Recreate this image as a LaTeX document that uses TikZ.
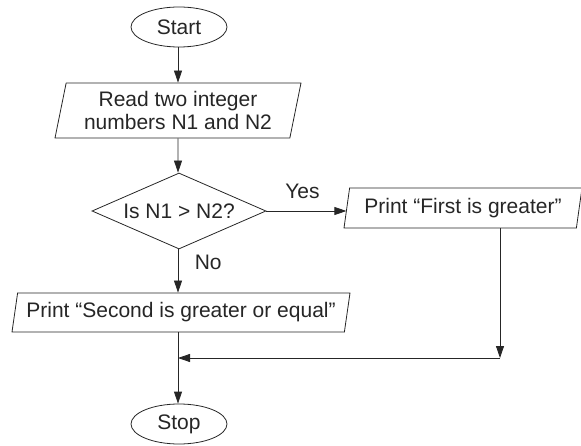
\documentclass[tikz,border=0pt]{standalone}
\usepackage{fontspec}
\setmainfont{Liberation Sans}
\usetikzlibrary{shapes.geometric,arrows.meta}

\tikzset{
  chart/.style={
    every node/.style={font=\fontsize{21}{23.5}\selectfont},
    color=black!85,
    line width=0.8pt
  }
}

\begin{document}
\begin{tikzpicture}[x=1pt, y=-1pt, chart]
    \tikzstyle{term}=[draw, ellipse, minimum width=96pt, minimum height=40pt, inner sep=0pt]
    \tikzstyle{io}=[draw, trapezium, trapezium left angle=74, trapezium right angle=106, trapezium stretches body, inner sep=0pt]
    \tikzstyle{decide}=[draw, diamond, aspect=2.3, minimum width=174pt, minimum height=76pt, inner sep=0pt]
    \tikzstyle{arrow}=[-{Triangle[length=12pt,width=8pt]}]
    \useasboundingbox (0,0) rectangle (581,446);

    \node[term] (F_start) at (179,27) {Start};
    \node[io, minimum width=246pt, minimum height=55pt, align=center] (F_read) at (178,110.5) {Read two integer\\numbers N1 and N2};
    \node[decide] (F_test) at (179,211) {Is N1 > N2?};
    \node[io, minimum width=238pt, minimum height=40pt] (F_first) at (463,208) {Print “First is greater”};
    \node[io, minimum width=338pt, minimum height=39pt] (F_second) at (181,312.5) {Print “Second is greater or equal”};
    \node[term] (F_stop) at (179,424) {Stop};
    \coordinate (F_corner) at (500,358);
    \coordinate (F_join) at (178,358);

    \draw[arrow] (F_start.south -| F_read.north) -- (F_read.north);
    \draw[arrow] (F_read) -- (F_test.north -| F_read.south);
    \draw[arrow] (F_test.east) -- (F_test.east -| F_first.west) node[pos=0.45,above=9pt] {Yes};
    \draw[arrow] (F_read.south |- F_test.south) -- (F_read.south |- F_second.north) node[pos=0.3,right=13pt] {No};
    \draw[arrow] (F_first.south -| F_corner) -- (F_corner);
    \draw[arrow] (F_corner) -- (F_join);
    \draw[arrow] (F_second.south -| F_join) -- (F_join |- F_stop.north);
\end{tikzpicture}
\end{document}
